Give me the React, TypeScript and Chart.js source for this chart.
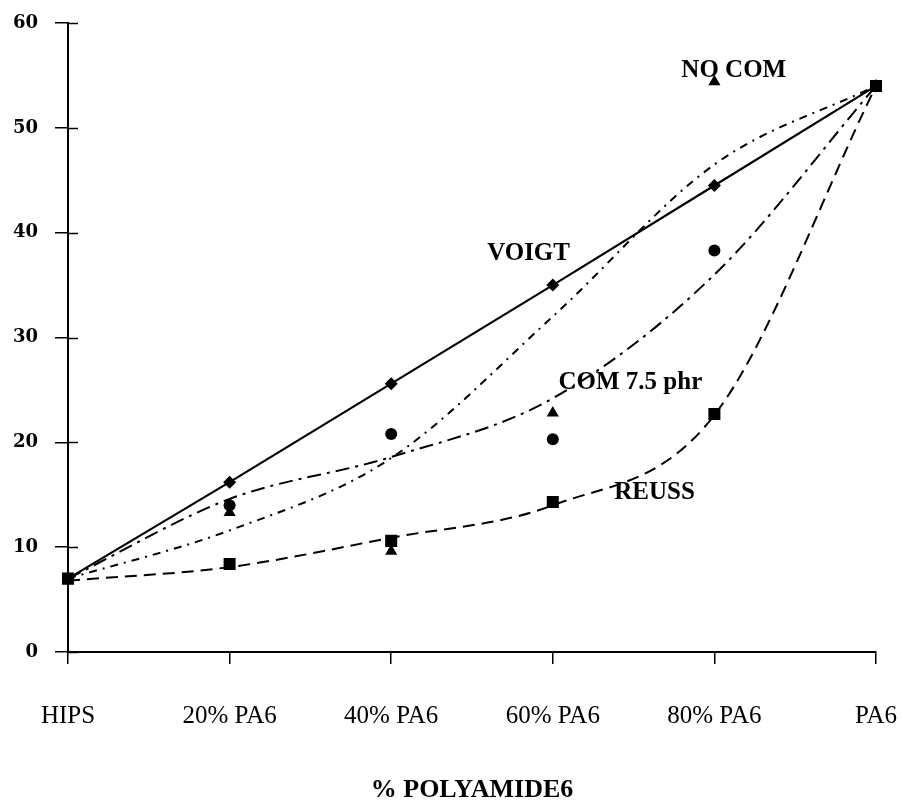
import React, { useEffect, useRef } from "react";
import { Chart, registerables } from "chart.js";

Chart.register(...registerables);

const categories = ["HIPS", "20% PA6", "40% PA6", "60% PA6", "80% PA6", "PA6"];
const yTickValues = [0, 10, 20, 30, 40, 50, 60];
const xTitle = "% POLYAMIDE6";

// measured points
const voigt = [7, 16.2, 25.6, 35, 44.5, 54];
const noComPoints = [7, 13.3, 9.6, 22.8, 54.4, 54];
const com75Points = [7, 14, 20.8, 20.3, 38.3, 54];
const reussPoints = [7, 8.4, 10.6, 14.3, 22.7, 54];

// fitted curves
const noComCurve = [7, 11.6, 18.5, 32, 46.5, 54];
const com75Curve = [7, 14.6, 18.6, 24.2, 36, 54];
const reussCurve = [6.8, 8.1, 10.9, 14, 22.6, 54];

// annotation labels: text, category index, value
const labelTexts = ["VOIGT", "NO COM", "COM 7.5 phr", "REUSS"];
const labelIdx = [2.85, 4.12, 3.48, 3.63];
const labelVal = [38.0, 55.5, 25.7, 15.2];

const SERIF = '"Liberation Serif", "Times New Roman", serif';

export default function App() {
  const ref = useRef<HTMLCanvasElement | null>(null);

  useEffect(() => {
    document.body.style.margin = "0";
    const canvas = ref.current;
    if (!canvas) return;

    const extras = {
      id: "extras",
      afterDatasetsDraw(chart: any) {
        const { ctx, scales, chartArea } = chart;
        const xs = scales.x;
        const ys = scales.y;
        ctx.save();
        // inner half of the y ticks
        ctx.strokeStyle = "#000";
        ctx.lineWidth = 1.5;
        yTickValues.forEach((v) => {
          const py = Math.round(ys.getPixelForValue(v)) + 0.5;
          ctx.beginPath();
          ctx.moveTo(chartArea.left, py);
          ctx.lineTo(chartArea.left + 10, py);
          ctx.stroke();
        });
        // annotations
        ctx.fillStyle = "#000";
        ctx.font = "bold 25px " + SERIF;
        ctx.textAlign = "center";
        ctx.textBaseline = "middle";
        labelTexts.forEach((t, i) => {
          ctx.fillText(t, xs.getPixelForValue(labelIdx[i]), ys.getPixelForValue(labelVal[i]));
        });
        // axis title
        ctx.font = "bold 26px " + SERIF;
        ctx.fillText(xTitle, (chartArea.left + chartArea.right) / 2, chartArea.bottom + 138);
        ctx.restore();
      },
    };

    const curveBase = {
      pointRadius: 0,
      borderColor: "#000",
      borderWidth: 2,
      fill: false,
      cubicInterpolationMode: "monotone" as const,
    };
    const pointBase = {
      showLine: false,
      backgroundColor: "#000",
      borderColor: "#000",
      borderWidth: 0,
    };

    const chart = new Chart(canvas, {
      type: "line",
      data: {
        labels: categories,
        datasets: [
          { ...curveBase, label: "NO COM fit", data: noComCurve, borderDash: [8, 6, 2, 6] },
          { ...curveBase, label: "COM fit", data: com75Curve, borderDash: [14, 6, 3, 6] },
          { ...curveBase, label: "REUSS fit", data: reussCurve, borderDash: [12, 7] },
          {
            label: "VOIGT",
            data: voigt,
            borderColor: "#000",
            backgroundColor: "#000",
            borderWidth: 2.2,
            tension: 0,
            pointStyle: "rectRot",
            pointRadius: 6.5,
            pointBorderWidth: 0,
          },
          { ...pointBase, label: "NO COM", data: noComPoints, pointStyle: "triangle", pointRadius: 7 },
          { ...pointBase, label: "COM 7.5 phr", data: com75Points, pointStyle: "circle", pointRadius: 6 },
          { ...pointBase, label: "REUSS", data: reussPoints, pointStyle: "rect", pointRadius: 8.5 },
        ],
      },
      options: {
        responsive: true,
        maintainAspectRatio: false,
        animation: false,
        layout: { padding: { top: 23, right: 27, bottom: 0, left: 0 } },
        plugins: { legend: { display: false }, tooltip: { enabled: false } },
        scales: {
          x: {
            type: "category",
            offset: false,
            grid: {
              display: true,
              drawOnChartArea: false,
              drawTicks: true,
              tickLength: 12,
              color: "#000",
              lineWidth: 1.5,
            },
            border: { display: true, color: "#000", width: 2 },
            ticks: {
              color: "#000",
              font: { family: SERIF, size: 25 },
              padding: 37,
              maxRotation: 0,
              autoSkip: false,
            },
            afterFit(s: any) {
              s.height = 149;
              s.paddingLeft = 0;
              s.paddingRight = 0;
            },
          },
          y: {
            min: 0,
            max: 60,
            grid: {
              display: true,
              drawOnChartArea: false,
              drawTicks: true,
              tickLength: 13,
              color: "#000",
              lineWidth: 1.5,
            },
            border: { display: true, color: "#000", width: 2 },
            ticks: {
              stepSize: 10,
              color: "#000",
              font: { family: '"DejaVu Serif", serif', size: 18, weight: "bold" },
              padding: 17,
            },
            afterFit(s: any) {
              s.width = 68;
              s.paddingTop = 0;
              s.paddingBottom = 0;
            },
          },
        },
      },
      plugins: [extras],
    });

    return () => chart.destroy();
  }, []);

  return (
    <div style={{ position: "fixed", left: 0, top: 0, width: 903, height: 801, background: "#fff" }}>
      <canvas ref={ref} />
    </div>
  );
}
